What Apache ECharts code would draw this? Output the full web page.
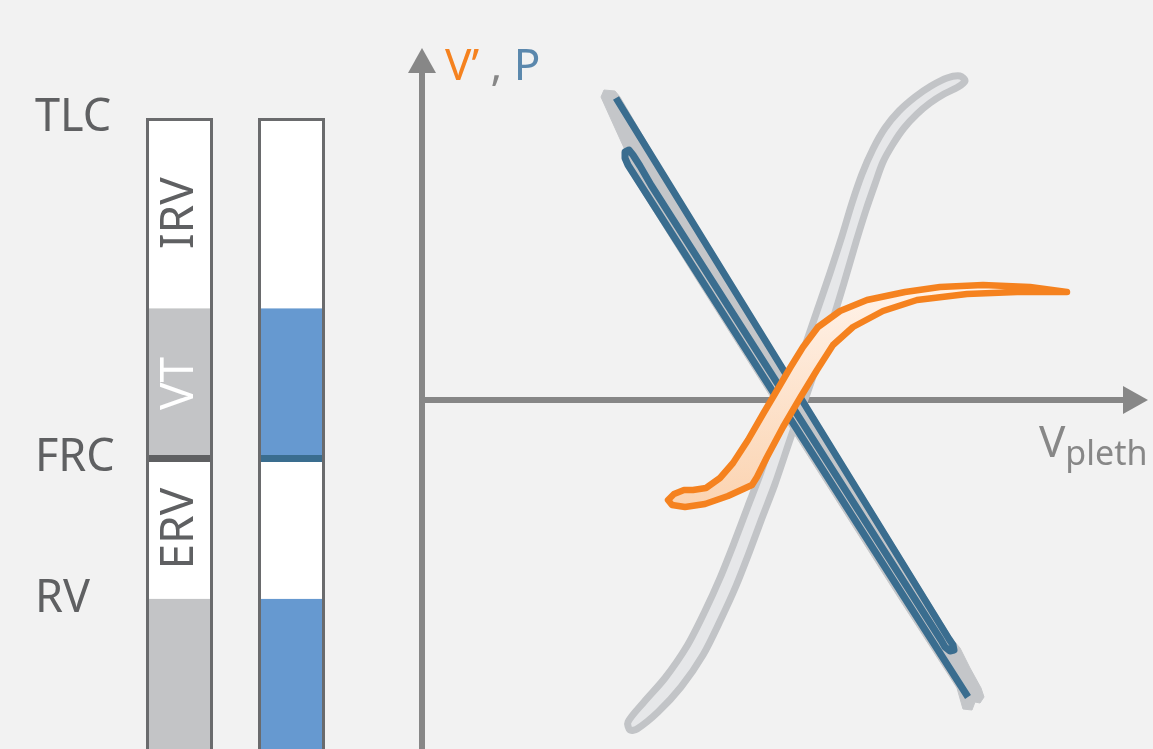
<!DOCTYPE html>
<html>
<head>
<meta charset="utf-8">
<script src="https://cdn.jsdelivr.net/npm/echarts@6/dist/echarts.min.js"></script>
<style>
  html, body { margin: 0; padding: 0; background: #f2f2f2; }
  #chart { width: 1153px; height: 749px; }
</style>
</head>
<body>
<div id="chart"></div>
<script>
// lung volume columns: left = volumes, right = measured share
const columns = ['Volumina', 'Messung'];
const volumeNames = ['RV', 'ERV', 'VT', 'IRV'];
const volumeValues = [1.6, 1.4, 1.5, 1.9];
const volumeLabelled = [false, true, true, true];

// levels shown on the left
const levelNames = ['RV', 'FRC', 'TLC'];
const levelValues = [1.6, 3.0, 6.4];

// plethysmography loops, [V_pleth, V'/P] in arbitrary units
const grayLoop = [
  [206, -322], [222, -302], [243, -278], [265, -246], [283, -211], [298, -178], [312, -143],
  [326, -106], [339, -72], [357, -19], [370, 16], [383, 54], [395, 89], [408, 127], [420, 164],
  [430, 197], [440, 226], [451, 251], [463, 272], [477, 289], [493, 303], [509, 314], [525, 322],
  [538, 324], [543, 319], [536, 313], [522, 306], [508, 297], [495, 286], [482, 272], [471, 256],
  [461, 238], [453, 216], [444, 190], [434, 158], [422, 117], [410, 78], [398, 44], [385, 6],
  [372, -28], [353, -84], [340, -118], [327, -153], [314, -186], [299, -219], [281, -255],
  [259, -287], [236, -312], [215, -329], [208, -330]
];
const shutterShadow = [
  [179, 303], [193, 272], [203, 250], [211, 222], [276, 118], [376, -40], [476, -197], [535, -288],
  [541, -309], [550, -310], [553, -302], [558, -303], [562, -297], [559, -288], [548, -268],
  [538, -248], [531, -240], [432, -80], [332, 82], [242, 228], [198, 303], [193, 309], [182, 310]
];
const shutterLine = [
  [194, 302], [527, -239], [531, -245], [532, -250], [528, -251], [523, -247], [519, -240],
  [229, 215], [218, 234], [211, 245], [207, 250], [203, 248], [203, 242], [206, 235], [546, -297]
];
const flowLoop = [
  [645, 108], [608, 113], [561, 115], [518, 113], [483, 108], [445, 100], [418, 89], [396, 73],
  [381, 53], [368, 32], [354, 8], [341, -14], [326, -40], [311, -63], [298, -78], [284, -88],
  [271, -90], [262, -90], [252, -94], [246, -100], [250, -105], [263, -107], [283, -104],
  [306, -96], [330, -85], [335, -77], [345, -57], [361, -27], [378, 2], [395, 30], [411, 55],
  [431, 73], [461, 89], [495, 100], [545, 106], [595, 108]
];

const textGray = '#5f6062';
const axisGray = '#878787';
const segColors = {
  RV: ['#c3c4c6', '#6699d0'],
  ERV: ['#ffffff', '#ffffff'],
  VT: ['#c3c4c6', '#6699d0'],
  IRV: ['#ffffff', '#ffffff']
};
const labelColors = { ERV: textGray, VT: '#ffffff', IRV: textGray };
const frcColors = ['#5f6062', '#3a6d8f'];

const chart = echarts.init(document.getElementById('chart'));

const frcLevel = volumeValues[0] + volumeValues[1];
const total = volumeValues.reduce((a, b) => a + b, 0);

const barSeries = volumeNames.map((name, i) => ({
  name: name,
  type: 'bar',
  stack: 'vol',
  xAxisIndex: 0,
  yAxisIndex: 0,
  barWidth: 67,
  barGap: '-100%',
  silent: true,
  data: columns.map((c, j) => ({ value: volumeValues[i], itemStyle: { color: segColors[name][j] } })),
  label: {
    show: volumeLabelled[i],
    position: 'inside',
    rotate: 90,
    fontSize: 46,
    fontFamily: 'Noto Sans',
    color: labelColors[name],
    formatter: p => (p.dataIndex === 0 ? p.seriesName : '')
  }
}));

function polygonSeries(points, style, z, smooth) {
  return {
    type: 'custom',
    xAxisIndex: 1,
    yAxisIndex: 1,
    z: z,
    silent: true,
    data: points,
    renderItem: (params, api) => {
      if (params.dataIndex !== 0) return null;
      return {
        type: 'polygon',
        shape: { points: points.map(p => api.coord(p)), smooth: smooth || 0 },
        style: style
      };
    }
  };
}

const option = {
  backgroundColor: '#f2f2f2',
  animation: false,
  textStyle: { fontFamily: 'Noto Sans' },
  grid: [
    { left: 123.5, right: 805.5, top: 118, bottom: -10, outerBoundsMode: 'none' },
    { left: 422, right: 17.5, top: 60.5, bottom: 0, outerBoundsMode: 'none' }
  ],
  xAxis: [
    { gridIndex: 0, type: 'category', data: columns, show: false },
    {
      gridIndex: 1, type: 'value', min: 0, max: 713.5,
      axisLine: {
        show: true, onZero: true,
        lineStyle: { color: axisGray, width: 6 },
        symbol: ['none', 'triangle'], symbolSize: [28, 25]
      },
      axisTick: { show: false }, axisLabel: { show: false }, splitLine: { show: false },
      name: '{v|V}{s|pleth}',
      nameLocation: 'end',
      nameGap: 12,
      nameMoveOverlap: false,
      nameTextStyle: {
        align: 'right', verticalAlign: 'top', padding: [22, 0, 0, 0],
        rich: {
          v: { fontSize: 44, color: axisGray, verticalAlign: 'top', lineHeight: 50 },
          s: { fontSize: 34, color: axisGray, verticalAlign: 'top', lineHeight: 40, padding: [16, 0, 0, 0] }
        }
      }
    }
  ],
  yAxis: [
    {
      gridIndex: 0, type: 'value', min: 0, max: total,
      axisLine: { show: false }, axisTick: { show: false }, splitLine: { show: false },
      axisLabel: {
        customValues: levelValues,
        align: 'left',
        margin: 88.5,
        fontSize: 45,
        color: textGray,
        padding: [4, 0, 0, 0],
        formatter: v => {
          const i = levelValues.findIndex(l => Math.abs(l - v) < 0.01);
          return i >= 0 ? levelNames[i] : '';
        }
      }
    },
    {
      gridIndex: 1, type: 'value', min: -349, max: 339.5,
      axisLine: {
        show: true,
        lineStyle: { color: axisGray, width: 6 },
        symbol: ['none', 'triangle'], symbolSize: [28, 25]
      },
      axisTick: { show: false }, axisLabel: { show: false }, splitLine: { show: false },
      name: '{o|V\u2019 }{c|, }{b|P}',
      nameLocation: 'end',
      nameGap: -7,
      nameMoveOverlap: false,
      nameTextStyle: {
        align: 'left', verticalAlign: 'middle', padding: [0, 0, 0, 23],
        rich: {
          o: { fontSize: 44, color: '#f5821f' },
          c: { fontSize: 44, color: axisGray },
          b: { fontSize: 44, color: '#5b88ad' }
        }
      }
    }
  ],
  series: [
    ...barSeries,
    {
      name: 'FRC',
      type: 'scatter',
      xAxisIndex: 0,
      yAxisIndex: 0,
      symbol: 'rect',
      symbolSize: [66, 7],
      z: 4,
      silent: true,
      data: columns.map((c, j) => ({ value: [j, frcLevel], itemStyle: { color: frcColors[j], opacity: 1 } }))
    },
    {
      name: 'outline',
      type: 'bar',
      xAxisIndex: 0,
      yAxisIndex: 0,
      barWidth: 67,
      barGap: '-100%',
      z: 5,
      silent: true,
      data: columns.map(() => total),
      itemStyle: { color: 'rgba(0,0,0,0)', borderColor: '#6a6b6d', borderWidth: 3 }
    },
    polygonSeries(grayLoop, { fill: '#e6e7e9', stroke: '#c2c4c7', lineWidth: 7, lineJoin: 'round' }, 2, 0.3),
    polygonSeries(shutterShadow, { fill: '#c4c6c9', stroke: '#c4c6c9', lineWidth: 1, lineJoin: 'round' }, 3),
    {
      type: 'line',
      xAxisIndex: 1,
      yAxisIndex: 1,
      data: shutterLine,
      symbol: 'none',
      showSymbol: false,
      silent: true,
      z: 4,
      lineStyle: { color: '#3a6d8f', width: 7, cap: 'butt', join: 'round' }
    },
    polygonSeries(flowLoop, {
      fill: new echarts.graphic.LinearGradient(0, 0, 0, 1, [
        { offset: 0, color: '#fff3ea' },
        { offset: 1, color: '#fbd3b0' }
      ]),
      stroke: '#f5821f', lineWidth: 6.5, lineJoin: 'round'
    }, 5)
  ]
};

chart.setOption(option);
</script>
</body>
</html>
